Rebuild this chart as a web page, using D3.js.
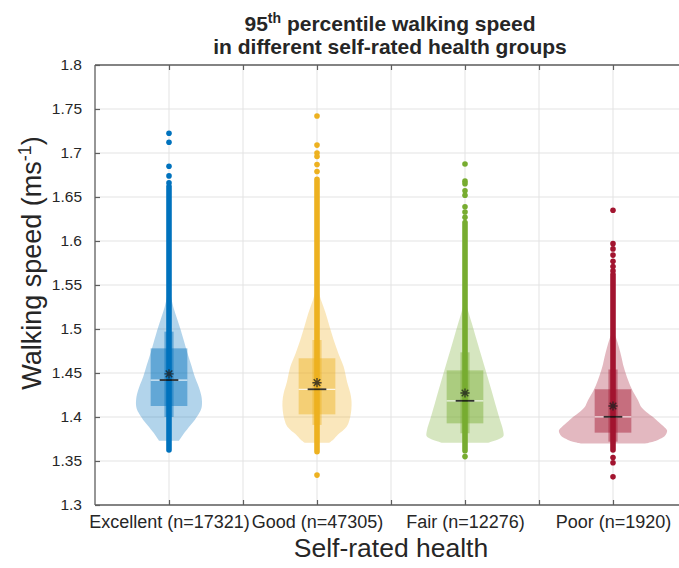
<!DOCTYPE html>
<html><head><meta charset="utf-8">
<script src="https://cdn.jsdelivr.net/npm/d3@7"></script>
<style>
body{margin:0;background:#fff}
svg{display:block}
text{font-family:"Liberation Sans",Arial,Helvetica,sans-serif;fill:#262626}
</style>
</head><body>
<svg id="chart" width="679" height="568"></svg>
<script>
// ---------- data ----------
const categories = ["Excellent (n=17321)", "Good (n=47305)", "Fair (n=12276)", "Poor (n=1920)"];
const categoryPositions = [1, 2, 3, 4];
const colors = ["#0072BD", "#EDB120", "#77AC30", "#A2142F"];
const yTicks = [1.3, 1.35, 1.4, 1.45, 1.5, 1.55, 1.6, 1.65, 1.7, 1.75, 1.8];
const yTickLabels = ["1.3", "1.35", "1.4", "1.45", "1.5", "1.55", "1.6", "1.65", "1.7", "1.75", "1.8"];
const xTicks = [1, 1.5, 2, 2.5, 3, 3.5, 4];

// violin outlines: speed levels and relative density (% of widest violin)
const excellentLevels = [1.373, 1.378, 1.382, 1.390, 1.397, 1.405, 1.412, 1.423, 1.435, 1.446, 1.460, 1.473, 1.486, 1.499, 1.512, 1.525, 1.537, 1.548];
const excellentDensity = [18.5, 24.1, 28.5, 38.9, 48.1, 56.5, 60.7, 60.2, 54.6, 47.6, 40.7, 33.9, 27.8, 21.7, 14.8, 8.0, 3.7, 0];
const goodLevels = [1.3708, 1.375, 1.380, 1.389, 1.397, 1.408, 1.418, 1.427, 1.440, 1.457, 1.472, 1.4875, 1.503, 1.518, 1.533, 1.548];
const goodDensity = [23.1, 31.5, 38.9, 54.8, 60.2, 63.5, 63.9, 61.7, 55.6, 49.4, 39.8, 30.9, 23.1, 16.1, 7.4, 0];
const fairLevels = [1.3708, 1.3745, 1.378, 1.385, 1.400, 1.4156, 1.430, 1.4458, 1.461, 1.476, 1.491, 1.5065, 1.520, 1.533];
const fairDensity = [42.6, 61.1, 70.9, 70.4, 63.1, 55.7, 49.1, 41.7, 34.3, 27.0, 20.0, 12.6, 6.1, 0];
const poorLevels = [1.370, 1.372, 1.374, 1.378, 1.3815, 1.385, 1.389, 1.395, 1.400, 1.406, 1.4117, 1.419, 1.430, 1.442, 1.457, 1.468, 1.480, 1.490, 1.499];
const poorDensity = [59.3, 74.1, 83.3, 95.4, 99.1, 100, 94.4, 83.3, 74.1, 61.1, 51.9, 46.3, 36.1, 27.8, 19.8, 15.7, 10.6, 5.6, 0];

// box statistics
const q1 = [1.4125, 1.403, 1.3928, 1.3822];
const q3 = [1.478, 1.4667, 1.453, 1.4315];
const medians = [1.442, 1.4315, 1.4184, 1.4002];
const means = [1.449, 1.439, 1.4273, 1.4125];
const whiskerLow = [1.400, 1.391, 1.3815, 1.372];
const whiskerHigh = [1.497, 1.4875, 1.4735, 1.454];

// individual observations: dense range and isolated points
const denseLow = [1.3625, 1.3606, 1.3617, 1.3625];
const denseHigh = [1.662, 1.670, 1.621, 1.562];
const excellentOutliers = [1.7224, 1.7122, 1.685, 1.674, 1.666];
const goodOutliers = [1.742, 1.709, 1.700, 1.696, 1.687, 1.679, 1.334];
const fairOutliers = [1.6875, 1.668, 1.665, 1.657, 1.652, 1.639, 1.633, 1.627, 1.355];
const poorOutliers = [1.635, 1.597, 1.591, 1.584, 1.577, 1.571, 1.566, 1.354, 1.348, 1.332];

// ---------- layout ----------
const svg = d3.select("#chart");
const plot = {left: 95, right: 687, top: 65, bottom: 505};
const x = d3.scaleLinear().domain([0.5, 4.5]).range([plot.left, plot.right]);
const y = d3.scaleLinear().domain([1.3, 1.8]).range([plot.bottom, plot.top]);
const maxHalfWidth = 0.365; // in x units for 100% density
const w = d3.scaleLinear().domain([0, 100]).range([0, x(1 + maxHalfWidth) - x(1)]);
const boxHalf = x(1.124) - x(1);
const whiskerHalf = x(1.031) - x(1);
const medianHalf = x(1.063) - x(1);

const violins = [
  {levels: excellentLevels, density: excellentDensity, outliers: excellentOutliers},
  {levels: goodLevels, density: goodDensity, outliers: goodOutliers},
  {levels: fairLevels, density: fairDensity, outliers: fairOutliers},
  {levels: poorLevels, density: poorDensity, outliers: poorOutliers}
];

// grid
const grid = svg.append("g");
grid.selectAll("line.gy").data(yTicks).join("line")
  .attr("x1", plot.left).attr("x2", plot.right)
  .attr("y1", d => y(d)).attr("y2", d => y(d))
  .attr("stroke", "#e3e3e3").attr("stroke-width", 1);
grid.selectAll("line.gx").data(xTicks).join("line")
  .attr("x1", d => x(d)).attr("x2", d => x(d))
  .attr("y1", plot.top).attr("y2", plot.bottom)
  .attr("stroke", "#e3e3e3").attr("stroke-width", 1);

// violins
violins.forEach((v, i) => {
  const cx = x(categoryPositions[i]);
  const col = colors[i];
  const pts = v.levels.map((l, k) => ({l, d: v.density[k]}));
  const area = d3.area()
    .y(d => y(d.l))
    .x0(d => cx - w(d.d))
    .x1(d => cx + w(d.d))
    .curve(d3.curveCatmullRom.alpha(0.5));
  const g = svg.append("g");
  g.append("path").attr("d", area(pts)).attr("fill", col).attr("fill-opacity", 0.3);
  // box
  g.append("rect").attr("x", cx - boxHalf).attr("width", 2 * boxHalf)
    .attr("y", y(q3[i])).attr("height", y(q1[i]) - y(q3[i]))
    .attr("fill", col).attr("fill-opacity", 0.45);
  // whisker bar
  g.append("rect").attr("x", cx - whiskerHalf).attr("width", 2 * whiskerHalf)
    .attr("y", y(whiskerHigh[i])).attr("height", y(whiskerLow[i]) - y(whiskerHigh[i]))
    .attr("fill", col).attr("fill-opacity", 0.45);
  // white median line
  g.append("line").attr("x1", cx - boxHalf).attr("x2", cx + boxHalf)
    .attr("y1", y(medians[i])).attr("y2", y(medians[i]))
    .attr("stroke", "#fff").attr("stroke-width", 1.2).attr("stroke-opacity", 0.8);
  // dense observations
  g.append("line").attr("x1", cx).attr("x2", cx)
    .attr("y1", y(denseLow[i])).attr("y2", y(denseHigh[i]))
    .attr("stroke", col).attr("stroke-width", 5.6).attr("stroke-linecap", "round");
  g.selectAll("circle").data(v.outliers).join("circle")
    .attr("cx", cx).attr("cy", d => y(d)).attr("r", 2.8).attr("fill", col);
  // median black line
  g.append("line").attr("x1", cx - medianHalf).attr("x2", cx + medianHalf)
    .attr("y1", y(medians[i])).attr("y2", y(medians[i]))
    .attr("stroke", "#111").attr("stroke-opacity", 0.85).attr("stroke-width", 1.8);
  // mean asterisk
  const r = 4.6, my = y(means[i]);
  const ast = `M${cx - r},${my}L${cx + r},${my}M${cx},${my - r}L${cx},${my + r}` +
    `M${cx - r * 0.72},${my - r * 0.72}L${cx + r * 0.72},${my + r * 0.72}` +
    `M${cx - r * 0.72},${my + r * 0.72}L${cx + r * 0.72},${my - r * 0.72}`;
  g.append("path").attr("d", ast).attr("stroke", "#222").attr("stroke-opacity", 0.8)
    .attr("stroke-width", 1.4).attr("fill", "none");
});

// axes frame
const axisColor = "#5e5e5e";
svg.append("line").attr("x1", plot.left).attr("x2", plot.left).attr("y1", plot.top).attr("y2", plot.bottom)
  .attr("stroke", axisColor).attr("stroke-width", 1.3);
svg.append("line").attr("x1", plot.left).attr("x2", plot.right).attr("y1", plot.bottom).attr("y2", plot.bottom)
  .attr("stroke", axisColor).attr("stroke-width", 1.3);
svg.append("line").attr("x1", plot.left).attr("x2", plot.right).attr("y1", plot.top).attr("y2", plot.top)
  .attr("stroke", axisColor).attr("stroke-width", 1.3);

// y axis ticks (inward) and labels
const yAxis = d3.axisLeft(y).tickValues(yTicks).tickSizeInner(-5).tickSizeOuter(0).tickPadding(13)
  .tickFormat((d, k) => yTickLabels[k]);
const yg = svg.append("g").attr("transform", `translate(${plot.left},0)`).call(yAxis);
yg.select(".domain").remove();
yg.selectAll(".tick line").attr("stroke", axisColor).attr("stroke-width", 1.2);
yg.selectAll(".tick text").attr("font-size", 15.5).attr("fill", "#262626")
  .attr("font-family", '"Liberation Sans",Arial,sans-serif');

// x axis ticks (inward, bottom and top)
const xAxis = d3.axisBottom(x).tickValues(xTicks).tickSizeInner(-5).tickSizeOuter(0).tickPadding(10)
  .tickFormat(d => {
    const k = categoryPositions.indexOf(d);
    return k >= 0 ? categories[k] : "";
  });
const xg = svg.append("g").attr("transform", `translate(0,${plot.bottom})`).call(xAxis);
xg.select(".domain").remove();
xg.selectAll(".tick line").attr("stroke", axisColor).attr("stroke-width", 1.2);
xg.selectAll(".tick text").attr("font-size", 18).attr("fill", "#262626")
  .attr("font-family", '"Liberation Sans",Arial,sans-serif');
const xTop = d3.axisTop(x).tickValues(xTicks).tickSizeInner(-5).tickSizeOuter(0).tickFormat("");
const xtg = svg.append("g").attr("transform", `translate(0,${plot.top})`).call(xTop);
xtg.select(".domain").remove();
xtg.selectAll(".tick line").attr("stroke", axisColor).attr("stroke-width", 1.2);

// axis labels
svg.append("text").attr("x", (plot.left + plot.right) / 2).attr("y", 557)
  .attr("text-anchor", "middle").attr("font-size", 26.5).text("Self-rated health");
const yl = svg.append("text").attr("transform", "translate(41,263) rotate(-90)")
  .attr("text-anchor", "middle").attr("font-size", 27);
yl.append("tspan").text("Walking speed (ms");
yl.append("tspan").attr("font-size", 18).attr("dy", -10).text("-1");
yl.append("tspan").attr("dy", 10).text(")");

// title
const t1 = svg.append("text").attr("x", 390).attr("y", 31).attr("text-anchor", "middle")
  .attr("font-size", 21).attr("font-weight", "bold");
t1.append("tspan").text("95");
t1.append("tspan").attr("font-size", 14).attr("dy", -8).text("th");
t1.append("tspan").attr("dy", 8).text(" percentile walking speed");
svg.append("text").attr("x", 390).attr("y", 54).attr("text-anchor", "middle")
  .attr("font-size", 21).attr("font-weight", "bold").text("in different self-rated health groups");
</script>
</body></html>
